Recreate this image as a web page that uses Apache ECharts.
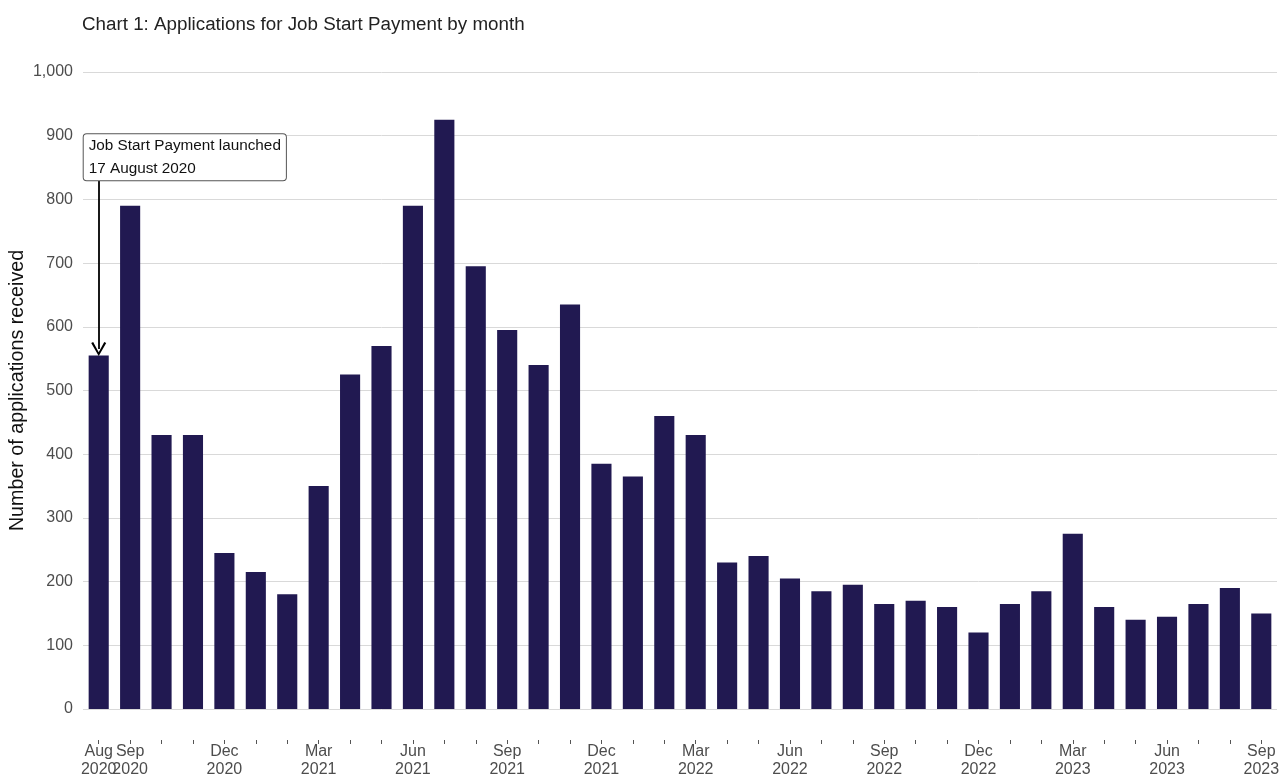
<!DOCTYPE html>
<html>
<head>
<meta charset="utf-8">
<script src="https://cdn.jsdelivr.net/npm/echarts@6/dist/echarts.min.js"></script>
<style>
html,body{margin:0;padding:0;background:#fff;}
#chart{width:1280px;height:778px;}
</style>
</head>
<body>
<div id="chart"></div>
<script>
var months = ['Aug 2020','Sep 2020','Oct 2020','Nov 2020','Dec 2020',
  'Jan 2021','Feb 2021','Mar 2021','Apr 2021','May 2021','Jun 2021','Jul 2021','Aug 2021','Sep 2021','Oct 2021','Nov 2021','Dec 2021',
  'Jan 2022','Feb 2022','Mar 2022','Apr 2022','May 2022','Jun 2022','Jul 2022','Aug 2022','Sep 2022','Oct 2022','Nov 2022','Dec 2022',
  'Jan 2023','Feb 2023','Mar 2023','Apr 2023','May 2023','Jun 2023','Jul 2023','Aug 2023','Sep 2023'];
var applications = [555,790,430,430,245,
  215,180,350,525,570,790,925,695,595,540,635,385,
  365,460,430,230,240,205,185,195,165,170,160,120,
  165,185,275,160,140,145,165,190,150];
var labelledMonths = ['Aug 2020','Sep 2020','Dec 2020','Mar 2021','Jun 2021','Sep 2021','Dec 2021',
  'Mar 2022','Jun 2022','Sep 2022','Dec 2022','Mar 2023','Jun 2023','Sep 2023'];
var yTicks = {min:0, max:1000, interval:100};
var annotationText = 'Job Start Payment launched\n17 August 2020';

var FONT = 'Liberation Sans, Arial, sans-serif';
var chart = echarts.init(document.getElementById('chart'));
chart.setOption({
  animation:false,
  title:{text:'Chart 1: Applications for Job Start Payment by month', left:77, top:10,
    textStyle:{fontFamily:FONT, fontSize:18.8, fontWeight:'normal', color:'#222'}},
  grid:[
    {left:83, right:3, top:72, bottom:69, outerBoundsMode:'none', containLabel:false},
    {left:83, right:3, top:739, height:1, outerBoundsMode:'none', containLabel:false}
  ],
  xAxis:[
    {type:'category', data:months, gridIndex:0, show:false},
    {type:'category', data:months, gridIndex:1, position:'bottom',
      axisLine:{show:false},
      axisTick:{show:true, alignWithLabel:true, interval:0, length:4, lineStyle:{color:'#555'}},
      axisLabel:{interval:0, margin:3, fontFamily:FONT, fontSize:16, color:'#4d4d4d', lineHeight:18,
        formatter:function(v){ return labelledMonths.indexOf(v)>=0 ? v.replace(' ','\n') : ''; }}
    }
  ],
  yAxis:[
    {type:'value', gridIndex:0, min:yTicks.min, max:yTicks.max, interval:yTicks.interval,
      name:'Number of applications received', nameLocation:'middle', nameGap:55, nameRotate:90,
      nameMoveOverlap:false,
      nameTextStyle:{fontFamily:FONT, fontSize:19.7, color:'#111'},
      axisLine:{show:false}, axisTick:{show:false},
      axisLabel:{margin:10, fontFamily:FONT, fontSize:16, color:'#4d4d4d',
        formatter:function(v){ return v.toLocaleString('en-GB'); }},
      splitLine:{lineStyle:{color:'#d9d9d9', width:1}}
    },
    {type:'value', gridIndex:1, show:false, min:0, max:1}
  ],
  series:[{
    type:'bar', xAxisIndex:0, yAxisIndex:0, data:applications, barWidth:'64%',
    itemStyle:{color:'#211951'},
    markLine:{silent:true, symbol:['none','path://M0,10 L5,0 L10,10 L8.7,10.7 L5,3 L1.3,10.7 Z'], symbolSize:[15,14],
      lineStyle:{color:'#000', width:1.8, type:'solid'}, label:{show:false},
      data:[[{coord:[months[0], 829]}, {coord:[months[0], 565]}]]
    },
    markPoint:{silent:true, symbol:'circle', symbolSize:0,
      data:[{coord:[months[0], 866], value:0,
        label:{show:true, position:[-15,-23], align:'left', verticalAlign:'top', formatter:annotationText,
          fontFamily:FONT, fontSize:15.3, color:'#111', lineHeight:23,
          backgroundColor:'#fff', borderColor:'#555', borderWidth:1, borderRadius:3, padding:[0,5,0,5]}}]
    }
  }]
});
</script>
</body>
</html>
